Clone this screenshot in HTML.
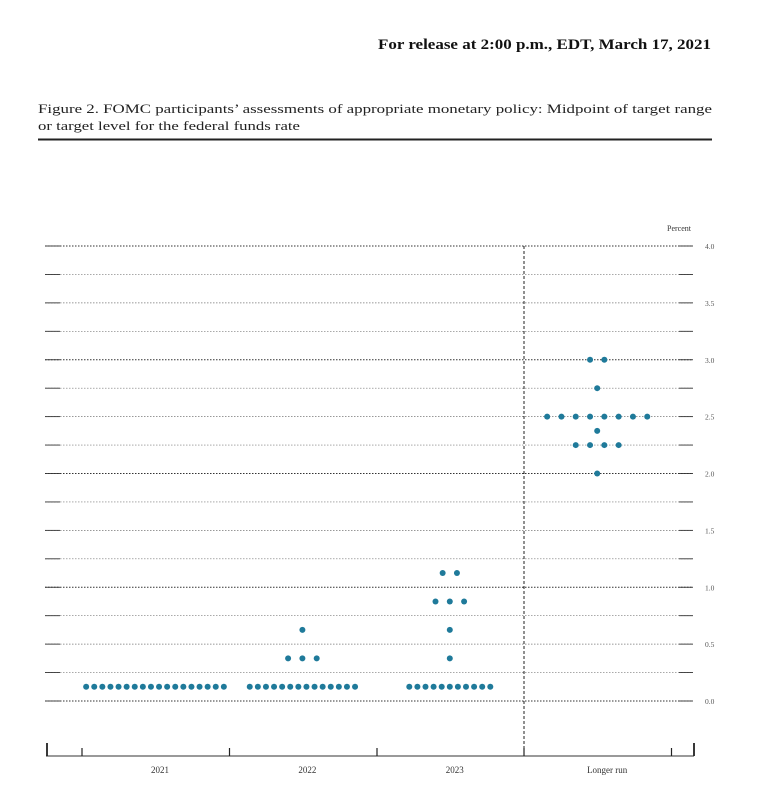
<!DOCTYPE html>
<html><head><meta charset="utf-8"><style>
body{margin:0;background:#fff;width:760px;height:804px;overflow:hidden;font-family:"Liberation Serif",serif}
</style></head><body>
<svg id="c" width="760" height="804" xmlns="http://www.w3.org/2000/svg" font-family="Liberation Serif, serif">
<text x="378" y="49" textLength="333" lengthAdjust="spacingAndGlyphs" font-size="14.5" font-weight="bold" fill="#111">For release at 2:00 p.m., EDT, March 17, 2021</text>
<text x="38" y="113" textLength="674" lengthAdjust="spacingAndGlyphs" font-size="13" fill="#222">Figure 2.  FOMC participants’ assessments of appropriate monetary policy:  Midpoint of target range</text>
<text x="38" y="130" textLength="262" lengthAdjust="spacingAndGlyphs" font-size="13" fill="#222">or target level for the federal funds rate</text>
<line x1="38" y1="139.5" x2="712" y2="139.5" stroke="#222" stroke-width="2"/>
<text x="691" y="231" text-anchor="end" font-size="8" fill="#333">Percent</text>
<g id="grid"></g><g id="dots"></g>
</svg>
<script>
const columns=["2021","2022","2023","Longer run"];
const rates2021=[0.125,0.125,0.125,0.125,0.125,0.125,0.125,0.125,0.125,0.125,0.125,0.125,0.125,0.125,0.125,0.125,0.125,0.125];
const rates2022=[0.625,0.375,0.375,0.375,0.125,0.125,0.125,0.125,0.125,0.125,0.125,0.125,0.125,0.125,0.125,0.125,0.125,0.125];
const rates2023=[1.125,1.125,0.875,0.875,0.875,0.625,0.375,0.125,0.125,0.125,0.125,0.125,0.125,0.125,0.125,0.125,0.125,0.125];
const ratesLR=[3.0,3.0,2.75,2.5,2.5,2.5,2.5,2.5,2.5,2.5,2.5,2.375,2.25,2.25,2.25,2.25,2.0];
const yTicks=["0.0","0.5","1.0","1.5","2.0","2.5","3.0","3.5","4.0"];
const series=[rates2021,rates2022,rates2023,ratesLR];
const NS="http://www.w3.org/2000/svg";
const y=v=>701-v*113.75;
const colX=i=>155+i*147.4;
const svg=document.getElementById('c'),grid=document.getElementById('grid'),dots=document.getElementById('dots');
function mk(tag,a,p){const e=document.createElementNS(NS,tag);for(const k in a)e.setAttribute(k,a[k]);(p||svg).appendChild(e);return e;}
for(let k=0;k<=16;k++){const v=k*0.25,yy=y(v),major=k%4===0;
 const l=mk('line',{x1:45,x2:693,y1:yy,y2:yy,stroke:major?'#333':'#777','stroke-width':major?0.9:0.7,'stroke-dasharray':'1.5,1.5'},grid);
 
 
 const t1=mk('line',{x1:45,x2:60,y1:yy,y2:yy,stroke:'#333','stroke-width':0.9},grid);
 
 
 const t2=mk('line',{x1:679,x2:693,y1:yy,y2:yy,stroke:'#333','stroke-width':0.9},grid);
 
 
}
yTicks.forEach(s=>{const t=mk('text',{x:705,y:y(parseFloat(s))+3,'font-size':7.5,fill:'#555'},grid);t.textContent=s;
 
 });
const vd=mk('line',{x1:524,x2:524,y1:246,y2:756,stroke:'#222','stroke-width':1,'stroke-dasharray':'3,2'},grid);


const ax=mk('line',{x1:46,x2:694,y1:756,y2:756,stroke:'#333','stroke-width':1},grid);


[[47,13,1.8],[82,8,1.2],[229.5,8,1.2],[377,8,1.2],[524,8,1.2],[671.5,8,1.2],[694,13,1.8]].forEach(([x,h,w])=>{
 const t=mk('line',{x1:x,x2:x,y1:756-h,y2:756,stroke:'#222','stroke-width':w},grid);
 
 });
columns.forEach((c,i)=>{const t=mk('text',{x:colX(i)+(i==3?10:5),y:773,'font-size':9,fill:'#333','text-anchor':'middle'},grid);t.textContent=c;
 
 });
series.forEach((arr,i)=>{const cnt={};arr.forEach(v=>cnt[v]=(cnt[v]||0)+1);
 Object.keys(cnt).forEach(k=>{const n=cnt[k],sp=n>8?8.1:14.3;
  for(let j=0;j<n;j++){const cx=colX(i)+(j-(n-1)/2)*sp;
   const d=mk('circle',{cx:cx,cy:y(parseFloat(k)),r:3,fill:'#1f7a9a'},dots);
   
   }});});
</script>
</body></html>
